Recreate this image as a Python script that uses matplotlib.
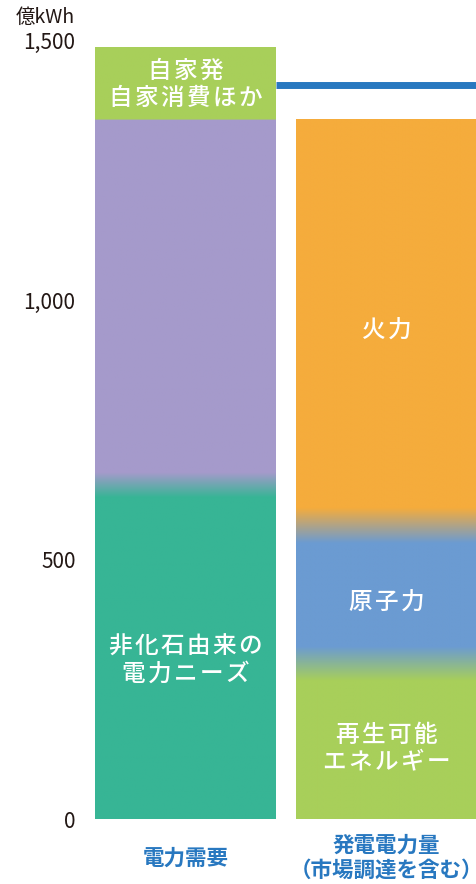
import numpy as np
import matplotlib.pyplot as plt
from matplotlib.colors import to_rgb

plt.rcParams['font.family'] = ['Noto Sans CJK JP', 'DejaVu Sans']

# data (億kWh)
categories = ['電力需要', '発電電力量\n（市場調達を含む）']
demand_labels = ['非化石由来の\n電力ニーズ', '', '自家発\n自家消費ほか']
demand_values = [643, 704, 139]
demand_colors = ['#37b595', '#a59acb', '#a8cf5a']
supply_labels = ['再生可能\nエネルギー', '原子力', '火力']
supply_values = [299, 266, 782]
supply_colors = ['#a8cf5a', '#6b9bd2', '#f5ac3c']
line_value = 1414
yticks = [0, 500, 1000, 1500]
yticklabels = ['0', '500', '1,000', '1,500']

W, H = 477, 884
fig = plt.figure(figsize=(W / 100, H / 100), dpi=100)
ax = fig.add_axes([95 / W, 65 / H, 382 / W, 778.5 / H])
ax.set_xlim(-0.45, 1.45)
ax.set_ylim(0, 1500)

bw = 0.9


def spaced(s):
    # a little letter spacing, like the original artwork
    return '\n'.join('\u200a'.join(line) for line in s.split('\n'))


def gradient_bar(x, values, colors, blend):
    # column of colours with soft blends between segments
    tops = np.cumsum(values)
    total = tops[-1]
    ys = np.linspace(0, total, 1500)
    rgb = np.array([to_rgb(c) for c in colors])
    img = np.zeros((len(ys), 3))
    for i, yv in enumerate(ys):
        col = rgb[0].copy()
        for k, b in enumerate(tops[:-1]):
            h = blend[k]
            if h == 0:
                t = 1.0 if yv >= b else 0.0
            else:
                t = np.clip((yv - (b - h)) / (2 * h), 0, 1)
            col = col * (1 - t) + rgb[k + 1] * t
        img[i] = col
    ax.imshow(img[:, None, :], extent=[x - bw / 2, x + bw / 2, 0, total],
              origin='lower', aspect='auto', interpolation='bilinear', zorder=2)
    return tops


dtops = gradient_bar(0, demand_values, demand_colors, [24, 0])
stops = gradient_bar(1, supply_values, supply_colors, [33, 34])

# labels inside bars
bottoms = np.concatenate([[0], dtops[:-1]])
for lab, b, t in zip(demand_labels, bottoms, dtops):
    if lab:
        off = -2 if t == dtops[-1] else -16
        ax.text(0, (b + t) / 2 + off, spaced(lab), ha='center', va='center',
                color='white', fontsize=17, fontweight='medium',
                linespacing=1.2, zorder=3)
bottoms = np.concatenate([[0], stops[:-1]])
for lab, b, t in zip(supply_labels, bottoms, stops):
    ax.text(1, (b + t) / 2 - 14, spaced(lab), ha='center', va='center',
            color='white', fontsize=17, fontweight='medium',
            linespacing=1.2, zorder=3)

ax.plot([bw / 2, 1.45], [line_value, line_value], color='#2878c0', lw=5,
        solid_capstyle='butt', zorder=3)

for s in ax.spines.values():
    s.set_visible(False)
ax.set_yticks(yticks)
ax.set_yticklabels(yticklabels, fontsize=15, color='#231815')
ax.tick_params(axis='y', length=0, pad=14)
ax.set_xticks([0, 1])
ax.set_xticklabels(categories, fontsize=15.5, color='#2878c0', fontweight='bold',
                   linespacing=1.2)
ax.tick_params(axis='x', length=0, pad=28)
for t in ax.get_xticklabels():
    t.set_va('center')

fig.text(75 / W, 1 - 17 / H, '億kWh', ha='right', va='center', fontsize=14,
         color='#231815')

fig.savefig('out.png', dpi=100)
